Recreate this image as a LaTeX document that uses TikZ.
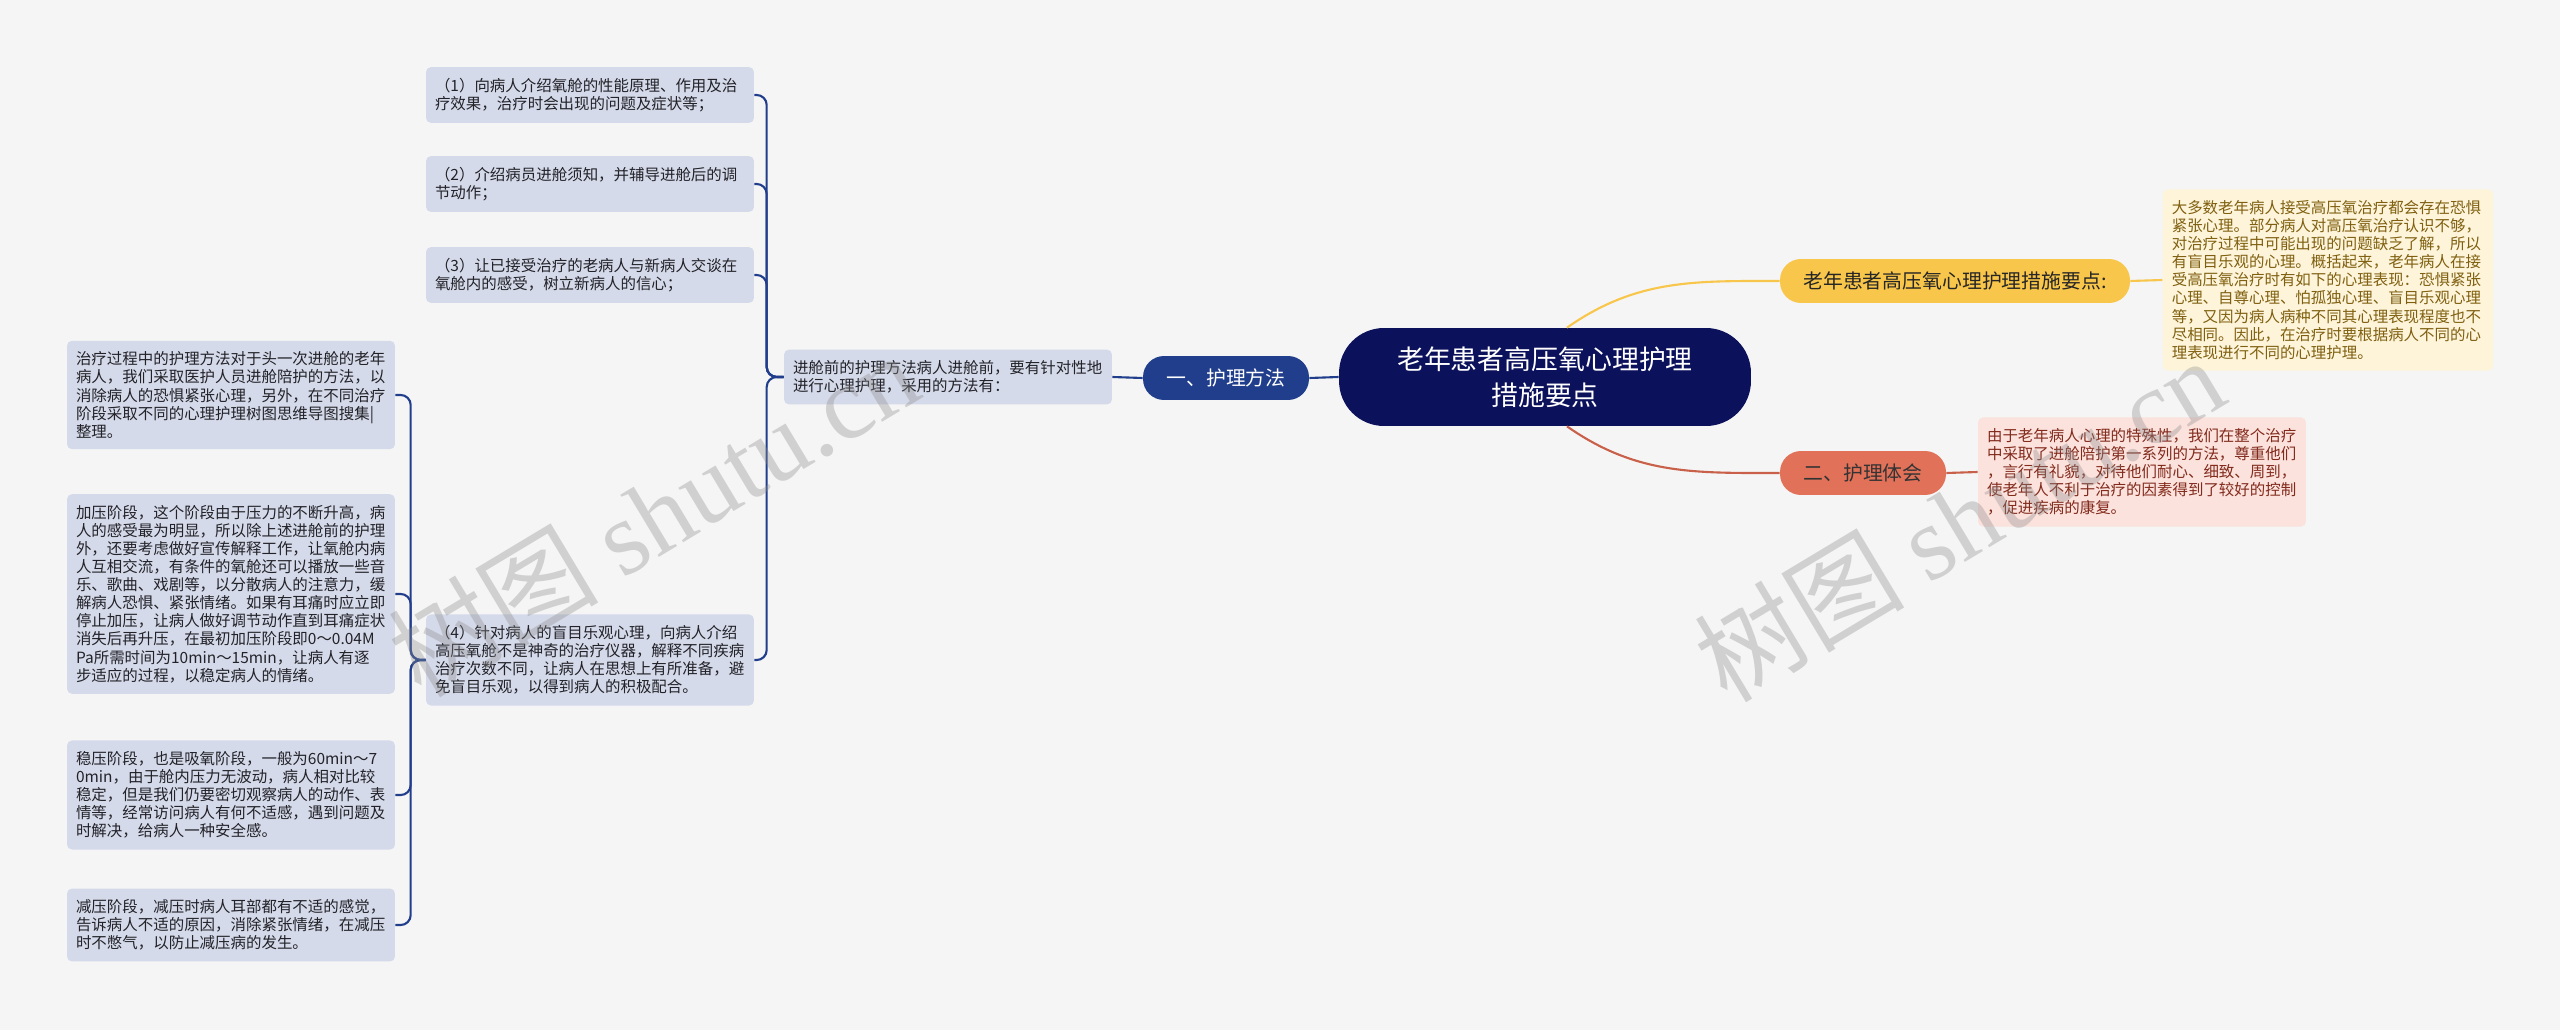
\documentclass[tikz,border=0pt]{standalone}
\usepackage{fontspec}
\setmainfont{Noto Sans CJK SC}
\newfontfamily\wmserif{Liberation Serif}
\usetikzlibrary{positioning}

\definecolor{bgcol}{RGB}{245,245,245}
\definecolor{rootcol}{RGB}{12,17,92}
\definecolor{navy}{RGB}{33,62,140}
\definecolor{leafcol}{RGB}{213,218,234}
\definecolor{inkcol}{RGB}{34,34,40}
\definecolor{yelcol}{RGB}{248,198,74}
\definecolor{yelfill}{RGB}{253,244,218}
\definecolor{yelink}{RGB}{128,96,16}
\definecolor{redcol}{RGB}{225,113,89}
\definecolor{redline}{RGB}{200,96,74}
\definecolor{redfill}{RGB}{251,226,220}
\definecolor{redink}{RGB}{130,42,28}

\begin{document}
\begin{tikzpicture}[
  x=0.02cm,y=-0.02cm,
  root/.style={fill=rootcol,text=white,rounded corners=0.9cm,align=center,
    minimum width=8.24cm,minimum height=1.96cm,font=\fontsize{15.3}{20.3}\selectfont},
  branch/.style={rounded corners=0.42cm,minimum height=0.88cm,inner xsep=0.3cm,
    font=\fontsize{11.3}{13}\selectfont},
  leaf/.style={fill=leafcol,text=inkcol,rounded corners=0.1cm,text width=6.2cm,
    inner xsep=0.18cm,inner ysep=0.22cm,align=left,font=\fontsize{8.8}{10.3}\selectfont},
  link/.style={draw=navy,line width=1.2pt,rounded corners=0.2cm},
  wm/.style={text=black!45,opacity=0.35,font=\fontsize{60}{60}\selectfont}
]
  \useasboundingbox[fill=bgcol] (0,0) rectangle (2560,1030);

  \node[root] (root) at (1545,377) {老年患者高压氧心理护理\\措施要点};

  % left side
  \node[branch,fill=navy,text=white,minimum width=3.32cm] (b1) at (1226,378) {一、护理方法};
  \node[leaf] (sub) at (948,377) {进舱前的护理方法病人进舱前，要有针对性地\\进行心理护理，采用的方法有：};

  \node[leaf] (item1) at (590,95) {（1）向病人介绍氧舱的性能原理、作用及治\\疗效果，治疗时会出现的问题及症状等；};
  \node[leaf] (item2) at (590,184) {（2）介绍病员进舱须知，并辅导进舱后的调\\节动作；};
  \node[leaf] (item3) at (590,275) {（3）让已接受治疗的老病人与新病人交谈在\\氧舱内的感受，树立新病人的信心；};
  \node[leaf] (item4) at (590,660) {（4）针对病人的盲目乐观心理，向病人介绍\\高压氧舱不是神奇的治疗仪器，解释不同疾病\\治疗次数不同，让病人在思想上有所准备，避\\免盲目乐观，以得到病人的积极配合。};

  \node[leaf] (d1) at (231,395) {治疗过程中的护理方法对于头一次进舱的老年\\病人，我们采取医护人员进舱陪护的方法，以\\消除病人的恐惧紧张心理，另外，在不同治疗\\阶段采取不同的心理护理树图思维导图搜集|\\整理。};
  \node[leaf] (d2) at (231,594) {加压阶段，这个阶段由于压力的不断升高，病\\人的感受最为明显，所以除上述进舱前的护理\\外，还要考虑做好宣传解释工作，让氧舱内病\\人互相交流，有条件的氧舱还可以播放一些音\\乐、歌曲、戏剧等，以分散病人的注意力，缓\\解病人恐惧、紧张情绪。如果有耳痛时应立即\\停止加压，让病人做好调节动作直到耳痛症状\\消失后再升压，在最初加压阶段即0～0.04M\\Pa所需时间为10min～15min，让病人有逐\\步适应的过程，以稳定病人的情绪。};
  \node[leaf] (d3) at (231,795) {稳压阶段，也是吸氧阶段，一般为60min～7\\0min，由于舱内压力无波动，病人相对比较\\稳定，但是我们仍要密切观察病人的动作、表\\情等，经常访问病人有何不适感，遇到问题及\\时解决，给病人一种安全感。};
  \node[leaf] (d4) at (231,925) {减压阶段，减压时病人耳部都有不适的感觉，\\告诉病人不适的原因，消除紧张情绪，在减压\\时不憋气，以防止减压病的发生。};

  % right side
  \node[branch,fill=yelcol,text=black!85,minimum width=7cm] (yel) at (1955,281) {老年患者高压氧心理护理措施要点:};
  \node[leaf,fill=yelfill,text=yelink,text width=6.25cm] (yeld) at (2328,280) {大多数老年病人接受高压氧治疗都会存在恐惧\\紧张心理。部分病人对高压氧治疗认识不够，\\对治疗过程中可能出现的问题缺乏了解，所以\\有盲目乐观的心理。概括起来，老年病人在接\\受高压氧治疗时有如下的心理表现：恐惧紧张\\心理、自尊心理、怕孤独心理、盲目乐观心理\\等，又因为病人病种不同其心理表现程度也不\\尽相同。因此，在治疗时要根据病人不同的心\\理表现进行不同的心理护理。};

  \node[branch,fill=redcol,text=black!80,minimum width=3.32cm] (red) at (1863,473) {二、护理体会};
  \node[leaf,fill=redfill,text=redink] (redd) at (2142,472) {由于老年病人心理的特殊性，我们在整个治疗\\中采取了进舱陪护第一系列的方法，尊重他们\\，言行有礼貌，对待他们耐心、细致、周到，\\使老年人不利于治疗的因素得到了较好的控制\\，促进疾病的康复。};

  \draw[link] (root.west) -- (b1.east);
  \draw[link] (b1.west) -- (sub.east);
  \foreach \n in {item1,item2,item3,item4}
    \draw[link] (sub.west) -- ++(-17,0) |- (\n.east);
  \foreach \n in {d1,d2,d3,d4}
    \draw[link] (item4.west) -- ++(-15,0) |- (\n.east);

  \draw[yelcol,line width=1.2pt] (root.66) to[out=35,in=180] (yel.west);
  \draw[yelcol,line width=1.2pt] (yel.east) -- (yeld.west);
  \draw[redline,line width=1.2pt] (root.294) to[out=-35,in=180] (red.west);
  \draw[redline,line width=1.2pt] (red.east) -- (redd.west);

  \node[wm,rotate=31] (wm1) at (653,514) {树图 {\wmserif shutu.cn}};
  \node[wm,rotate=31] (wm2) at (1959,519) {树图 {\wmserif shutu.cn}};
\end{tikzpicture}
\end{document}
